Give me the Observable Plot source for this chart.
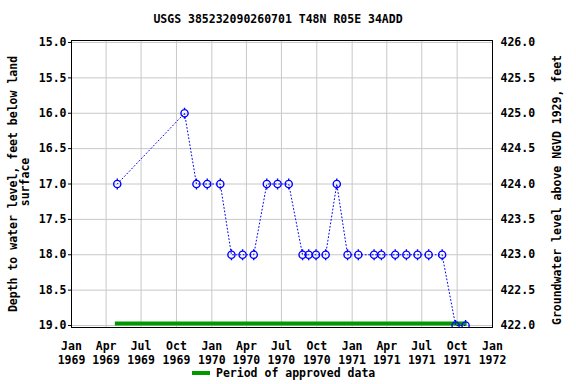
<!DOCTYPE html>
<html><head><meta charset="utf-8">
<script src="https://cdn.jsdelivr.net/npm/d3@7"></script>
<script src="https://cdn.jsdelivr.net/npm/@observablehq/plot@0.6"></script>
<style>
body{margin:0;background:#fff;}
#wrap{position:relative;width:576px;height:384px;overflow:hidden;}
</style></head><body><div id="wrap"></div>
<script>
const titleText = "USGS 385232090260701 T48N R05E 34ADD";
const leftLabel = ["Depth to water level, feet below land", "surface"];
const rightLabel = "Groundwater level above NGVD 1929, feet";
const legendLabel = "Period of approved data";
const datumOffset = 441; // elevation = 441 - depth

const dates = ["1969-04-30","1969-10-22","1969-11-22","1969-12-20","1970-01-23","1970-02-21","1970-03-22","1970-04-20","1970-05-24","1970-06-21","1970-07-20","1970-08-25","1970-09-10","1970-09-29","1970-10-24","1970-11-22","1970-12-20","1971-01-17","1971-02-27","1971-03-18","1971-04-23","1971-05-22","1971-06-20","1971-07-19","1971-08-23","1971-09-27","1971-10-23"];
const depths = [17,16,17,17,17,18,18,18,17,17,17,18,18,18,18,17,18,18,18,18,18,18,18,18,18,19,19];
const approvedStart = "1969-04-25";
const approvedEnd = "1971-10-27";
const yTicks = [15.0,15.5,16.0,16.5,17.0,17.5,18.0,18.5,19.0];
const xDomain = ["1969-01-01","1972-01-01"];
const monthNames = ["Jan","Feb","Mar","Apr","May","Jun","Jul","Aug","Sep","Oct","Nov","Dec"];

const data = dates.map((d,i)=>({date:new Date(d), depth:depths[i]}));
const approved = [{start:new Date(approvedStart), end:new Date(approvedEnd), y:yTicks[yTicks.length-1]}];
const x0 = new Date(xDomain[0]), x1 = new Date(xDomain[1]);
const xTicks = d3.utcMonth.every(3).range(x0, new Date(+x1+1));

const FONT = "'DejaVu Sans Mono', monospace";
const usgsSymbol = {
  draw(ctx, size){
    const r = Math.sqrt(size/Math.PI);
    ctx.moveTo(r,0);
    ctx.arc(0,0,r,0,2*Math.PI);
    ctx.moveTo(0,-r); ctx.lineTo(0,-r-1.8);
    ctx.moveTo(0,r); ctx.lineTo(0,r+1.8);
  }
};

const chart = Plot.plot({
  width:576, height:384,
  marginLeft:71, marginRight:84, marginTop:40, marginBottom:57,
  style:{fontFamily:FONT, fontSize:"11.5px", fontWeight:"bold", background:"#fff", color:"#000", overflow:"visible"},
  x:{type:"utc", domain:[x0,x1]},
  y:{domain:[14.972,19.028], reverse:true},
  marks:[
    Plot.gridX(xTicks,{stroke:"#c8c8c8", strokeOpacity:1, strokeWidth:1}),
    Plot.gridY(yTicks,{stroke:"#c8c8c8", strokeOpacity:1, strokeWidth:1}),
    Plot.axisX(xTicks,{tickFormat:d=>monthNames[d.getUTCMonth()]+"\n"+d.getUTCFullYear(), tickSize:0, tickPadding:13, lineHeight:1.19, fontWeight:"bold"}),
    Plot.axisY(yTicks,{anchor:"left", tickFormat:d=>d.toFixed(1), tickSize:3, tickPadding:2, label:null}),
    Plot.axisY(yTicks,{anchor:"right", tickFormat:d=>(datumOffset-d).toFixed(1), tickSize:0, tickPadding:8, label:null}),
    Plot.ruleY(approved,{x1:"start", x2:"end", y:"y", dy:-2, stroke:"#009a00", strokeWidth:4}),
    Plot.line(data,{x:"date", y:"depth", stroke:"blue", strokeWidth:1, strokeDasharray:"1,2.5"}),
    Plot.dot(data,{x:"date", y:"depth", symbol:usgsSymbol, r:3.6, stroke:"blue", strokeWidth:1.4, fill:"none", clip:true}),
    Plot.frame({stroke:"#000", strokeWidth:1})
  ]
});

const svg = d3.select(chart);
function label(sel){ return sel.attr("font-family",FONT).attr("font-size","11.5px").attr("font-weight","bold").attr("fill","#000"); }
label(svg.append("text").attr("x",278).attr("y",19).attr("text-anchor","middle").attr("dominant-baseline","middle")).text(titleText);
label(svg.append("text").attr("transform","translate(13,184) rotate(-90)").attr("text-anchor","middle").attr("dominant-baseline","middle")).text(leftLabel[0]);
label(svg.append("text").attr("transform","translate(25,182) rotate(-90)").attr("text-anchor","middle").attr("dominant-baseline","middle")).text(leftLabel[1]);
label(svg.append("text").attr("transform","translate(557,190) rotate(-90)").attr("text-anchor","middle").attr("dominant-baseline","middle")).text(rightLabel);
svg.append("line").attr("x1",192).attr("x2",210).attr("y1",373).attr("y2",373).attr("stroke","#009a00").attr("stroke-width",4);
label(svg.append("text").attr("x",216).attr("y",373).attr("text-anchor","start").attr("dominant-baseline","middle")).text(legendLabel);

document.getElementById("wrap").appendChild(chart);
</script></body></html>
